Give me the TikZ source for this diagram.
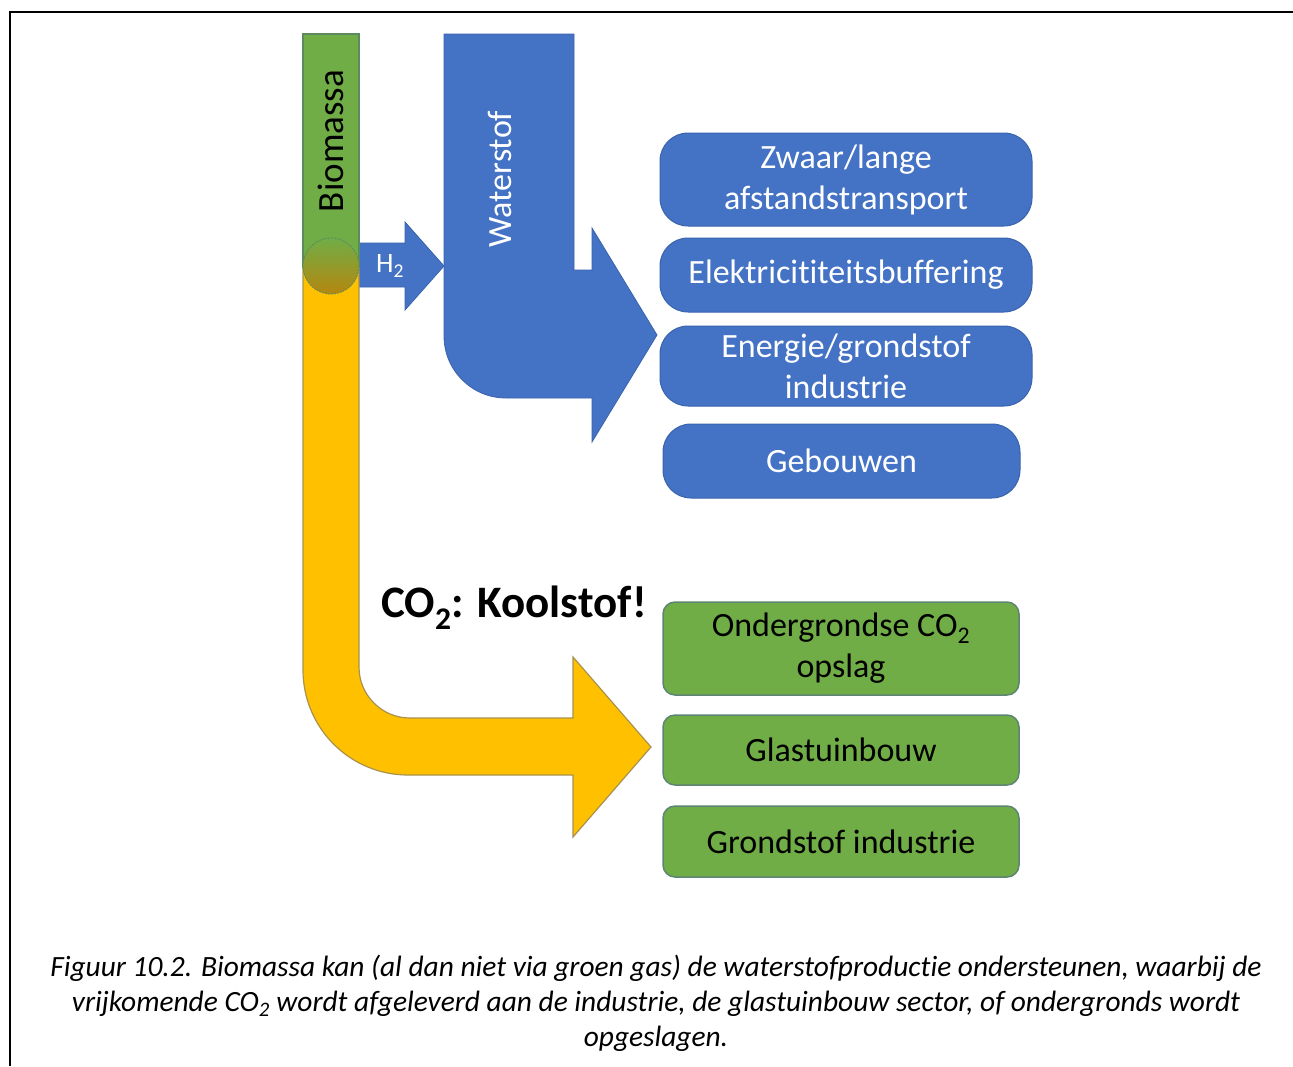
\documentclass[tikz,border=0pt]{standalone}
\usepackage{fontspec}
\setmainfont{Carlito}[Ligatures=NoCommon]
\definecolor{hblue}{HTML}{4472C4}
\definecolor{hblueedge}{HTML}{3A63AD}
\definecolor{hgreen}{HTML}{70AD47}
\definecolor{hgreenedge}{HTML}{5E8574}
\definecolor{hbaredge}{HTML}{5B8A5E}
\definecolor{hyellow}{HTML}{FFC000}
\definecolor{hyellowedge}{HTML}{A8924E}
\definecolor{hbrown}{HTML}{B5870F}
\tikzset{
  bluebox/.style={draw=hblueedge, line width=1pt, fill=hblue, rounded corners=28pt,
    text=white, align=center, inner sep=0pt, font=\fontsize{34}{41}\selectfont},
  greenbox/.style={draw=hgreenedge, line width=1.5pt, fill=hgreen, rounded corners=12pt,
    text=black, align=center, inner sep=0pt, font=\fontsize{34}{41}\selectfont},
}
\begin{document}
\begin{tikzpicture}[x=1pt,y=-1pt]
\useasboundingbox (0,0) rectangle (1293,1066);
% frame
\draw[line width=2pt] (10,1066) -- (10,12) -- (1293,12);
% H2 arrow
\draw[fill=hblue, draw=hblueedge, line width=0.8pt]
  (359,243) -- (405,243) -- (405,222) -- (444,266) -- (405,310) -- (405,287) -- (359,287) -- cycle;
% yellow arrow
\draw[fill=hyellow, draw=hyellowedge, line width=1.2pt]
  (303,267) -- (303,670) arc[start angle=180, end angle=90, radius=105]
  -- (573,775) -- (573,837) -- (651,747) -- (573,657) -- (573,718)
  -- (410,718) arc[start angle=90, end angle=180, radius=51] -- (359,267) -- cycle;
% green bar
\draw[fill=hgreen, draw=hbaredge, line width=1.2pt] (303,34) rectangle (359,267);
% junction circle
\shade[top color=hgreen, bottom color=hbrown] (331,266) circle[radius=28];
\draw[draw=hbaredge, line width=0.8pt, dash pattern=on 2pt off 1pt] (331,266) circle[radius=28];
% blue bent arrow
\draw[fill=hblue, draw=hblueedge, line width=0.8pt]
  (444,34) -- (574,34) -- (574,270) -- (592,270) -- (592,228) -- (657,335)
  -- (592,442) -- (592,398) -- (506,398) arc[start angle=90, end angle=180, radius=62] -- cycle;
% labels on arrows
\node[rotate=90, font=\fontsize{37}{44}\selectfont, inner sep=0pt] (bio) at (331,141) {Biomassa};
\node[rotate=90, text=white, font=\fontsize{34}{41}\selectfont, inner sep=0pt] (wat) at (500,179) {Waterstof};
\node[text=white, font=\fontsize{28}{34}\selectfont, inner sep=0pt, anchor=west] (h2) at (376,266) {H\textsubscript{2}};
\node[font=\bfseries\fontsize{45}{54}\selectfont, inner sep=0pt, anchor=west] (co2) at (381,608) {CO\textsubscript{2}: Koolstof!};
% blue boxes
\node[bluebox, minimum width=372pt, minimum height=93pt] (b1) at (846,179.5) {Zwaar/lange\\afstandstransport};
\node[bluebox, minimum width=372pt, minimum height=74pt] (b2) at (846,275) {Elektricititeitsbuffering};
\node[bluebox, minimum width=372pt, minimum height=80pt] (b3) at (846,366) {Energie/grondstof\\industrie};
\node[bluebox, minimum width=357pt, minimum height=74pt] (b4) at (841.5,461) {Gebouwen};
% green boxes
\node[greenbox, minimum width=356pt, minimum height=93pt] (g1) at (841,648.5) {Ondergrondse CO\textsubscript{2}\\opslag};
\node[greenbox, minimum width=356pt, minimum height=70pt] (g2) at (841,750) {Glastuinbouw};
\node[greenbox, minimum width=356pt, minimum height=71pt] (g3) at (841,841.5) {Grondstof industrie};
% caption
\node[align=center, inner sep=0pt, font=\itshape\fontsize{29.4}{35}\selectfont] (cap) at (656,1003)
  {Figuur 10.2. Biomassa kan (al dan niet via groen gas) de waterstofproductie ondersteunen, waarbij de\\
   vrijkomende CO\textsubscript{2} wordt afgeleverd aan de industrie, de glastuinbouw sector, of ondergronds wordt\\
   opgeslagen.};
\end{tikzpicture}
\end{document}
